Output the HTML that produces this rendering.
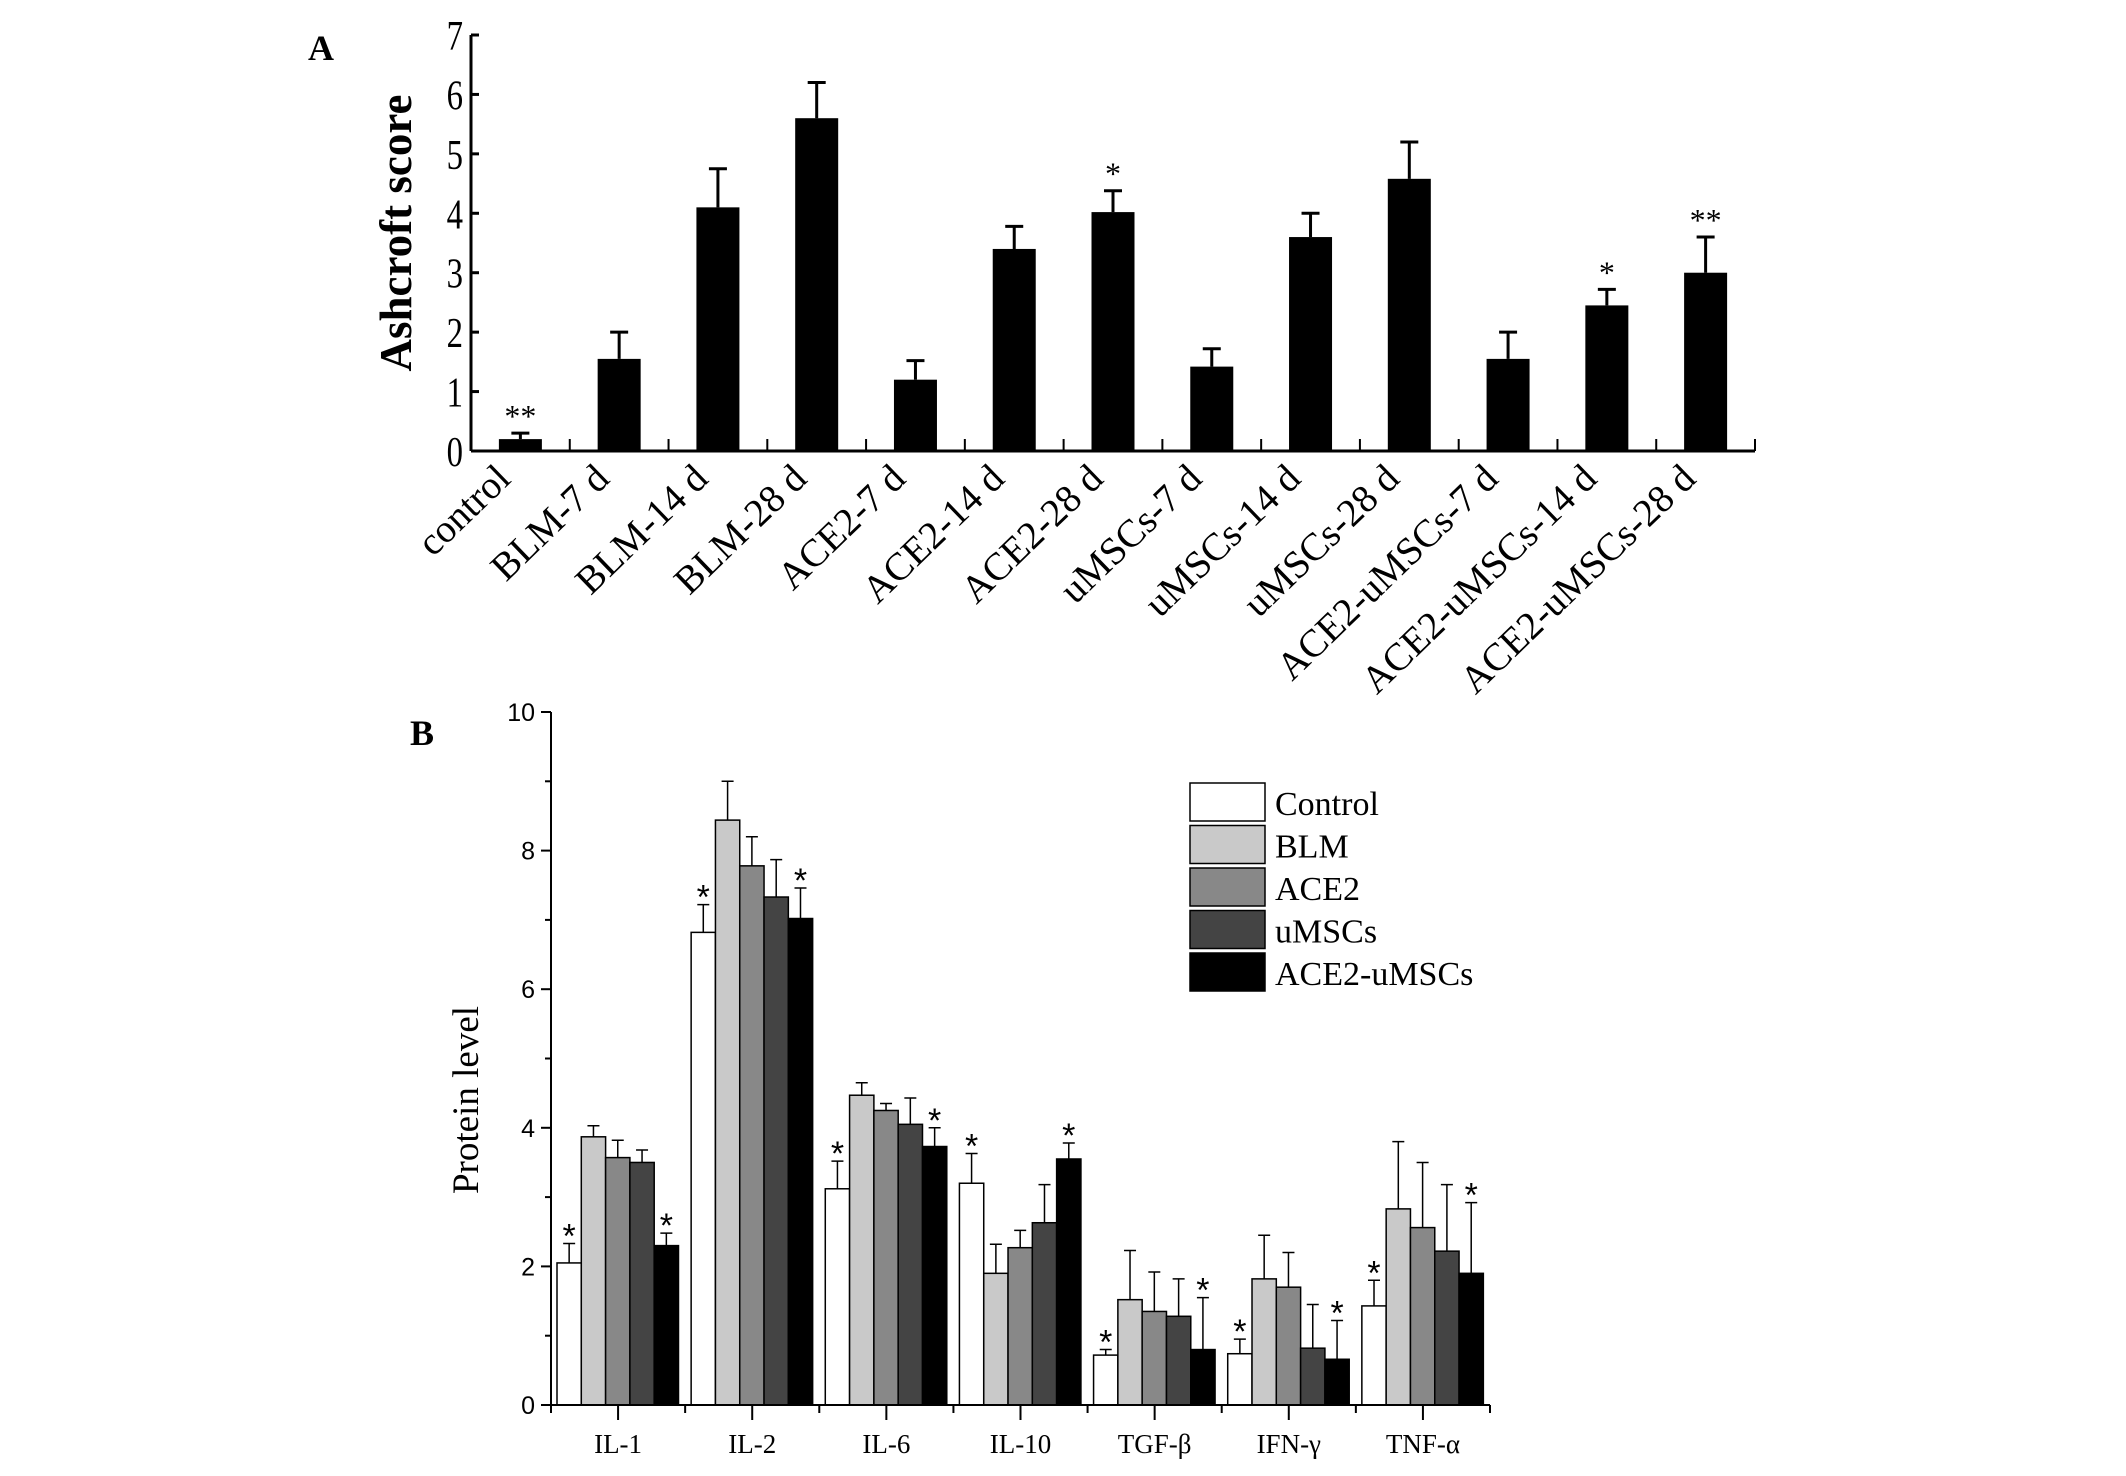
<!DOCTYPE html>
<html><head><meta charset="utf-8"><style>
html,body{margin:0;padding:0;background:#fff;}
svg{display:block;}
</style></head><body>
<svg id="fig" width="2126" height="1476" viewBox="0 0 2126 1476" xmlns="http://www.w3.org/2000/svg">
<rect width="2126" height="1476" fill="#fff"/>
<g id="pa"></g>
<g id="pb"></g>
</svg>
<script>
// Panel A data
const catsA = ["control","BLM-7 d","BLM-14 d","BLM-28 d","ACE2-7 d","ACE2-14 d","ACE2-28 d","uMSCs-7 d","uMSCs-14 d","uMSCs-28 d","ACE2-uMSCs-7 d","ACE2-uMSCs-14 d","ACE2-uMSCs-28 d"];
const valsA = [0.2,1.55,4.1,5.6,1.2,3.4,4.02,1.42,3.6,4.58,1.55,2.45,3.0];
const errTopA = [0.3,2.0,4.75,6.2,1.52,3.78,4.38,1.72,4.0,5.2,2.0,2.72,3.6];
const sigA = ["**","","","","","","*","","","","","*","**"];
const ticksA = [0,1,2,3,4,5,6,7];
// Panel B data
const catsB = ["IL-1","IL-2","IL-6","IL-10","TGF-β","IFN-γ","TNF-α"];
const seriesB = ["Control","BLM","ACE2","uMSCs","ACE2-uMSCs"];
const sControl = [2.05,6.82,3.12,3.2,0.72,0.74,1.43];
const sBLM = [3.87,8.44,4.47,1.9,1.52,1.82,2.83];
const sACE2 = [3.57,7.78,4.25,2.27,1.35,1.7,2.56];
const sUMSC = [3.5,7.33,4.05,2.63,1.28,0.82,2.22];
const sACEU = [2.3,7.02,3.73,3.55,0.8,0.66,1.9];
const eControl = [2.33,7.22,3.52,3.63,0.8,0.95,1.8];
const eBLM = [4.03,9.0,4.65,2.32,2.23,2.45,3.8];
const eACE2 = [3.82,8.2,4.35,2.52,1.92,2.2,3.5];
const eUMSC = [3.68,7.87,4.43,3.18,1.82,1.45,3.18];
const eACEU = [2.48,7.46,4.0,3.78,1.55,1.22,2.92];
const ticksB = [0,2,4,6,8,10];

const NS="http://www.w3.org/2000/svg";
function mk(tag,parent,attrs,txt){const e=document.createElementNS(NS,tag);for(const k in attrs)e.setAttribute(k,attrs[k]);if(txt!==undefined)e.textContent=txt;parent.appendChild(e);return e;}
const serif='"Liberation Serif", serif';

// ---- Panel A ----
const pa=document.getElementById('pa');
const ax0=471, ax1=1755, ay0=451, ay7=35;
const yA=v=>ay0-(v/7)*(ay0-ay7);
const band=(ax1-ax0)/catsA.length;
const xA=i=>ax0+band*(i+0.5);
let t=mk('text',pa,{x:308,y:60,'font-family':serif,'font-size':36,'font-weight':'bold'},'A');


let ln=mk('line',pa,{x1:ax0,y1:ay7,x2:ax0,y2:ay0,stroke:'#000','stroke-width':3});


ln=mk('line',pa,{x1:ax0,y1:ay0,x2:ax1,y2:ay0,stroke:'#000','stroke-width':3});


ticksA.forEach(v=>{
  mk('line',pa,{x1:ax0,y1:yA(v),x2:ax0+8,y2:yA(v),stroke:'#000','stroke-width':3});
  const tx=mk('text',pa,{x:0,y:0,'text-anchor':'end','font-family':serif,'font-size':42,transform:`translate(${ax0-8},${yA(v)+15}) scale(0.78,1)`},String(v));
  
  
});
for(let i=1;i<=catsA.length;i++){mk('line',pa,{x1:ax0+band*i,y1:ay0,x2:ax0+band*i,y2:ay0-12,stroke:'#000','stroke-width':2});}
t=mk('text',pa,{x:0,y:0,'text-anchor':'middle','font-family':serif,'font-size':45,'font-weight':'bold',transform:`translate(411,233) rotate(-90)`},'Ashcroft score');


catsA.forEach((c,i)=>{
  const cx=xA(i), bw=43;
  const r=mk('rect',pa,{x:cx-bw/2,y:yA(valsA[i]),width:bw,height:ay0-yA(valsA[i]),fill:'#000'});
  
  
  const e=mk('path',pa,{d:`M${cx},${yA(valsA[i])} V${yA(errTopA[i])} M${cx-9},${yA(errTopA[i])} H${cx+9}`,stroke:'#000','stroke-width':3,fill:'none'});
  
  
  if(sigA[i]){const s=mk('text',pa,{x:cx,y:yA(errTopA[i])-6,'text-anchor':'middle','font-family':serif,'font-size':32},sigA[i]);
    
    }
  const l=mk('text',pa,{x:0,y:0,'text-anchor':'end','font-family':serif,'font-size':39,transform:`translate(${cx-8},${ay0+30}) rotate(-44)`},c);
  
  
});

// ---- Panel B ----
const pb=document.getElementById('pb');
const bx0=551, bx1=1490, by0=1405, by10=712;
const yB=v=>by0-(v/10)*(by0-by10);
const gw=(bx1-bx0)/catsB.length;
const bw=24.3;
const fills=['#ffffff','#c9c9c9','#888888','#444444','#000000'];
const vals=[sControl,sBLM,sACE2,sUMSC,sACEU];
const errs=[eControl,eBLM,eACE2,eUMSC,eACEU];
t=mk('text',pb,{x:410,y:745,'font-family':serif,'font-size':36,'font-weight':'bold'},'B');


catsB.forEach((c,g)=>{
  const gs=bx0+gw*g+6;
  for(let s=0;s<5;s++){
    const x=gs+bw*s, v=vals[s][g], ev=errs[s][g];
    const cx=x+bw/2;
    const e=mk('path',pb,{d:`M${cx},${yB(v)} V${yB(ev)} M${cx-6},${yB(ev)} H${cx+6}`,stroke:'#000','stroke-width':1.5,fill:'none'});
    
    
    const r=mk('rect',pb,{x:x,y:yB(v),width:bw,height:by0-yB(v),fill:fills[s],stroke:'#000','stroke-width':1.5});
    
    
    if(s===0||s===4){const st=mk('text',pb,{x:cx,y:yB(ev)+4,'text-anchor':'middle','font-family':'"Liberation Sans", sans-serif','font-size':34},'*');
      
      }
  }
  const cx=bx0+gw*(g+0.5);
  mk('line',pb,{x1:cx,y1:by0,x2:cx,y2:by0+15,stroke:'#000','stroke-width':2});
  mk('line',pb,{x1:bx0+gw*(g+1),y1:by0,x2:bx0+gw*(g+1),y2:by0+8,stroke:'#000','stroke-width':2});
  const l=mk('text',pb,{x:cx,y:1453,'text-anchor':'middle','font-family':serif,'font-size':27},c);
  
  
});
ln=mk('line',pb,{x1:bx0,y1:by10,x2:bx0,y2:by0+8,stroke:'#000','stroke-width':2});


ln=mk('line',pb,{x1:bx0-10,y1:by0,x2:bx1,y2:by0,stroke:'#000','stroke-width':2});


for(let v=0;v<=10;v++){mk('line',pb,{x1:bx0-(v%2===0?10:6),y1:yB(v),x2:bx0,y2:yB(v),stroke:'#000','stroke-width':2});}
ticksB.forEach(v=>{
  const tx=mk('text',pb,{x:bx0-16,y:yB(v)+9,'text-anchor':'end','font-family':'"Liberation Sans", sans-serif','font-size':25},String(v));
  
  
});
t=mk('text',pb,{x:0,y:0,'text-anchor':'middle','font-family':serif,'font-size':37,transform:`translate(478,1100) rotate(-90)`},'Protein level');


seriesB.forEach((n,i)=>{
  const y=783+i*42.5;
  const g=mk('g',pb,{});
  
  
  mk('rect',g,{x:1190,y:y,width:75,height:38,fill:fills[i],stroke:'#000','stroke-width':1.5});
  mk('text',g,{x:1275,y:y+32,'font-family':serif,'font-size':34},n);
});
</script>
</body></html>
